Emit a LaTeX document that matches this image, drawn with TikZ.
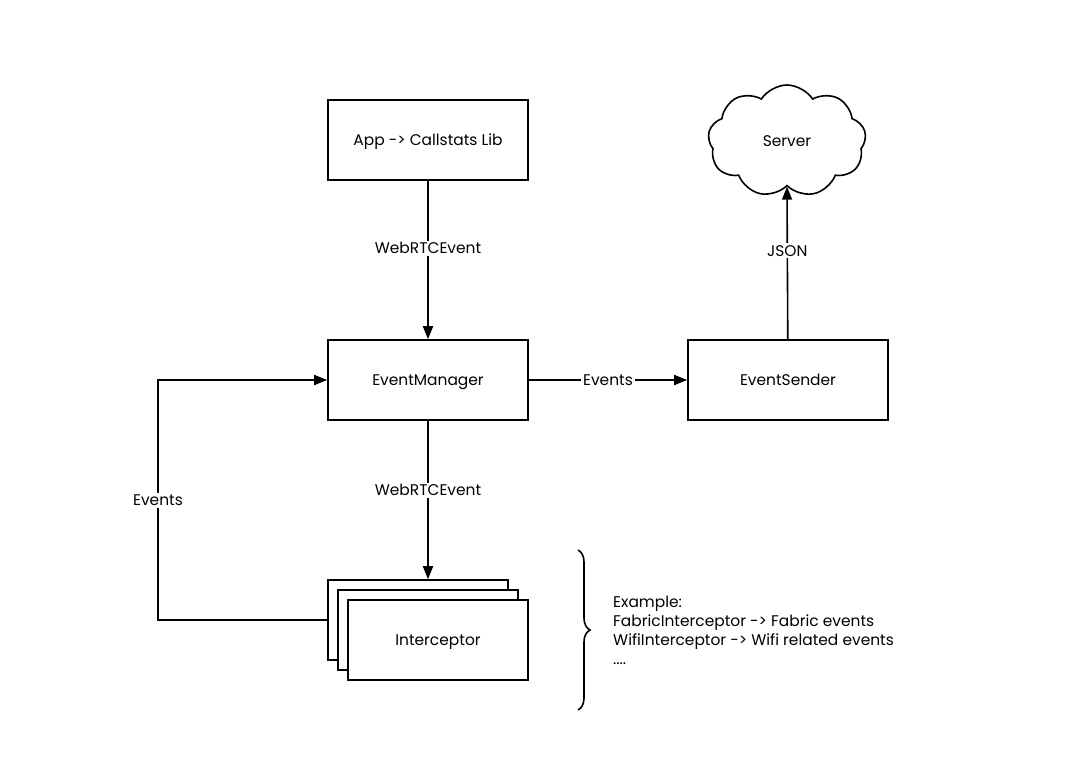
\documentclass[tikz,border=0pt]{standalone}
\usepackage{fontspec}
\setmainfont{Poppins}
\usetikzlibrary{arrows.meta,shapes.symbols,decorations.pathreplacing}
\begin{document}
\begin{tikzpicture}[x=1bp,y=-1bp,
  every node/.style={font=\fontsize{15.5}{18}\selectfont},
  box/.style={draw,line width=1.6bp,fill=white,minimum width=200bp,minimum height=80bp,
              inner sep=0pt,text height=11bp,text depth=0bp},
  conn/.style={line width=1.6bp,-{Triangle[length=13bp,width=10bp]}},
  lbl/.style={fill=white,inner sep=2bp,text height=11bp,text depth=0bp}]
\useasboundingbox (0,0) rectangle (1065,777);
% main boxes
\node[box] (app) at (428,140) {App -> Callstats Lib};
\node[box] (mgr) at (428,380) {EventManager};
\node[box] (snd) at (788,380) {EventSender};
% stacked interceptors
\node[box,minimum width=180bp] (ic3) at (418,620) {};
\node[box,minimum width=180bp] (ic2) at (428,630) {};
\node[box,minimum width=180bp] (ic1) at (438,640) {Interceptor};
% server cloud
\node[cloud,draw,line width=1.6bp,cloud puffs=9,cloud puff arc=115,aspect=1.4,
      minimum width=158bp,minimum height=112bp,inner sep=0pt,
      text height=11bp,text depth=0bp] (srv) at (787,141) {Server};
% connectors
\coordinate (icTop) at (mgr.south |- ic3.north);
\draw[conn] (app) -- node[lbl,pos=0.425] {WebRTCEvent} (mgr);
\draw[conn] (mgr.south) -- node[lbl,pos=0.4375] {WebRTCEvent} (icTop);
\draw[conn] (mgr) -- node[lbl] {Events} (snd);
\draw[conn] (snd) -- node[lbl,pos=0.58] {JSON} (srv.south);
\coordinate (fb1) at (158,620);
\coordinate (fb2) at (158,380);
\draw[conn] (ic3.west) -- (fb1) -- node[lbl] {Events} (fb2) -- (mgr.west);
% brace and note
\draw[line width=1.6bp,decorate,decoration={brace,amplitude=12bp}] (578,550) -- (578,710);
\node[anchor=west,align=left,inner sep=0pt,font=\fontsize{15.5}{19}\selectfont] (note) at (613,630)
  {Example:\\FabricInterceptor -> Fabric events\\WifiInterceptor -> Wifi related events\\....};
\end{tikzpicture}
\end{document}
